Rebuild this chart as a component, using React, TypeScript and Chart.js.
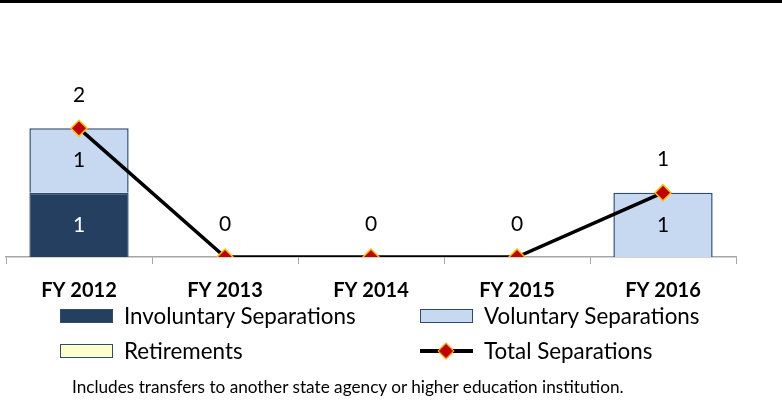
import React, { useEffect, useRef } from "react";
import { Chart, registerables } from "chart.js";

Chart.register(...registerables);

const categories = ["FY 2012", "FY 2013", "FY 2014", "FY 2015", "FY 2016"];
const involuntary = [1, 0, 0, 0, 0];
const voluntary = [1, 0, 0, 0, 1];
const retirements = [0, 0, 0, 0, 0];
const totals = [2, 0, 0, 0, 1];
const footnote = "Includes transfers to another state agency or higher education institution.";

const FONT = "Lato, 'Open Sans', sans-serif";
const NAVY = "#243F60";
const LIGHT = "#C6D9F1";
const YELLOW = "#FFFFCC";
const BORDER = "#2E4B72";

const labelPlugin = {
  id: "valueLabels",
  afterDatasetsDraw(chart: any) {
    const ctx = chart.ctx;
    ctx.save();
    ctx.font = `21px ${FONT}`;
    ctx.textAlign = "center";
    ctx.textBaseline = "middle";
    chart.data.datasets.forEach((ds: any, di: number) => {
      const meta = chart.getDatasetMeta(di);
      if (meta.hidden) return;
      meta.data.forEach((el: any, i: number) => {
        const v = ds.data[i];
        if (ds.type === "line") {
          ctx.fillStyle = "#000";
          ctx.fillText(String(v), el.x, el.y - 33);
        } else {
          if (!v) return;
          ctx.fillStyle = ds.labelColor || "#000";
          ctx.fillText(String(v), el.x, (el.y + el.base) / 2);
        }
      });
    });
    ctx.restore();
  },
};

function Swatch({ fill }: { fill: string }) {
  return (
    <div
      style={{
        width: 51,
        height: 12,
        background: fill,
        border: `1.5px solid ${BORDER}`,
      }}
    />
  );
}

function LineSwatch() {
  return (
    <div style={{ position: "relative", width: 53, height: 14 }}>
      <div style={{ position: "absolute", left: 0, right: 0, top: 5, height: 4, background: "#000" }} />
      <div
        style={{
          position: "absolute",
          left: 20,
          top: 1,
          width: 10,
          height: 10,
          background: "#C00000",
          border: "1.5px solid #FFC000",
          transform: "rotate(45deg)",
        }}
      />
    </div>
  );
}

export default function App() {
  const ref = useRef<HTMLCanvasElement>(null);
  useEffect(() => {
    const chart = new Chart(ref.current!, {
      type: "bar",
      data: {
        labels: categories,
        datasets: [
          {
            type: "line",
            label: "Total Separations",
            data: totals,
            borderColor: "#000",
            borderWidth: 3.5,
            pointStyle: "rectRot",
            pointRadius: 8,
            pointBackgroundColor: "#C00000",
            pointBorderColor: "#FFC000",
            pointBorderWidth: 1.5,
            stack: "total",
            order: 0,
            tension: 0,
          } as any,
          {
            type: "bar",
            label: "Involuntary Separations",
            data: involuntary,
            backgroundColor: NAVY,
            borderColor: BORDER,
            borderWidth: 1.5,
            stack: "sep",
            order: 1,
            labelColor: "#fff",
          } as any,
          {
            type: "bar",
            label: "Voluntary Separations",
            data: voluntary,
            backgroundColor: LIGHT,
            borderColor: BORDER,
            borderWidth: 1.5,
            stack: "sep",
            order: 1,
            labelColor: "#000",
          } as any,
          {
            type: "bar",
            label: "Retirements",
            data: retirements,
            backgroundColor: YELLOW,
            borderColor: BORDER,
            borderWidth: 0,
            stack: "sep",
            order: 1,
          } as any,
        ],
      },
      options: {
        animation: false,
        responsive: false,
        devicePixelRatio: 1,
        datasets: { bar: { barPercentage: 0.68, categoryPercentage: 1 } },
        layout: { autoPadding: false, padding: { left: 6, right: 46, top: 64, bottom: 82 } },
        plugins: { legend: { display: false }, tooltip: { enabled: false } },
        scales: {
          x: {
            stacked: true,
            grid: { display: true, drawOnChartArea: false, tickLength: 7, color: "#A6A6A6", offset: true },
            border: { color: "#A6A6A6", width: 1.5 },
            ticks: { color: "#000", padding: 15, font: { family: FONT, size: 20, weight: "bold" } },
          },
          y: { stacked: true, display: false, min: 0, max: 3 },
        },
      },
      plugins: [labelPlugin],
    });
    let alive = true;
    const fonts: any = (document as any).fonts;
    if (fonts && fonts.load) {
      Promise.all([fonts.load("bold 20px Lato"), fonts.load("21px Lato")])
        .catch(() => null)
        .then(() => {
          if (alive) chart.update();
        });
    }
    return () => {
      alive = false;
      chart.destroy();
    };
  }, []);

  const legendText: React.CSSProperties = {
    fontFamily: FONT,
    fontSize: 22.4,
    color: "#000",
    marginLeft: 11,
    lineHeight: "24px",
    whiteSpace: "nowrap",
  };
  const row: React.CSSProperties = { position: "absolute", display: "flex", alignItems: "center" };

  return (
    <div style={{ position: "absolute", left: 0, top: 0, width: 782, height: 400, background: "#fff", overflow: "hidden" }}>
      <div style={{ position: "absolute", left: 0, top: 0, width: 782, height: 3, background: "#000" }} />
      <canvas ref={ref} width={782} height={400} style={{ position: "absolute", left: 0, top: 0 }} />
      <div style={{ ...row, left: 60, top: 304 }}>
        <Swatch fill={NAVY} />
        <span style={legendText}>Involuntary Separations</span>
      </div>
      <div style={{ ...row, left: 420, top: 304 }}>
        <Swatch fill={LIGHT} />
        <span style={legendText}>Voluntary Separations</span>
      </div>
      <div style={{ ...row, left: 60, top: 339 }}>
        <Swatch fill={YELLOW} />
        <span style={legendText}>Retirements</span>
      </div>
      <div style={{ ...row, left: 420, top: 339 }}>
        <LineSwatch />
        <span style={legendText}>Total Separations</span>
      </div>
      <div
        style={{
          position: "absolute",
          left: 72,
          top: 376,
          fontFamily: FONT,
          fontSize: 17.2,
          color: "#000",
          whiteSpace: "nowrap",
        }}
      >
        {footnote}
      </div>
    </div>
  );
}
